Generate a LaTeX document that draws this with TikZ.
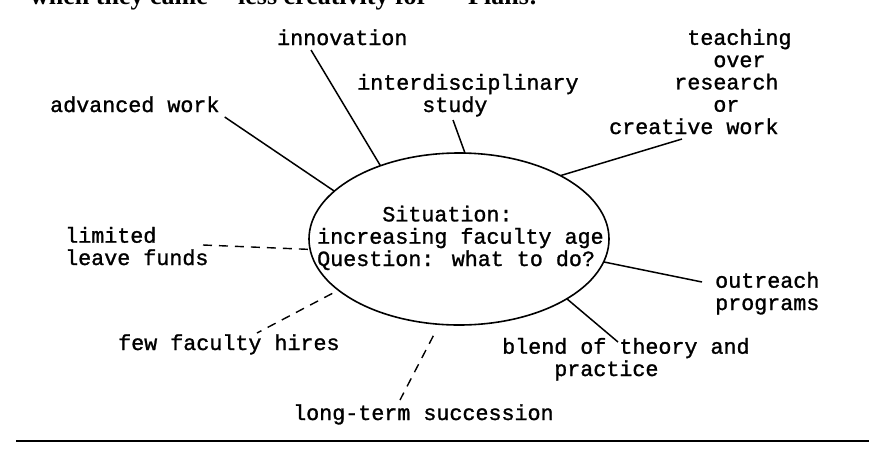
\documentclass[tikz,border=0pt]{standalone}
\usepackage{fontspec}
\usetikzlibrary{shapes.geometric}
\newfontfamily\printfont{Liberation Mono}[FakeBold=1.2]
\newfontfamily\bodyfont{Liberation Serif}
\tikzset{
  txt/.style={font=\printfont\fontsize{21.7}{22.3}\selectfont, inner sep=0pt,
              anchor=base west, align=left},
  spoke/.style={line width=1.5pt},
  dashspoke/.style={line width=1.4pt, dash pattern=on 9pt off 7pt},
}
\begin{document}
\begin{tikzpicture}[x=1pt, y=-1pt]
  \useasboundingbox (0,0) rectangle (869,456);

  % running text of the page above the figure, cut by the page edge
  \begin{scope}
    \clip (0,0) rectangle (869,456);
    \node[font=\bodyfont\bfseries\fontsize{26}{28}\selectfont, inner sep=0pt, anchor=base west]
      (runa) at (30,4) {when they came -- less creativity for};
    \node[font=\bodyfont\bfseries\fontsize{26}{28}\selectfont, inner sep=0pt, anchor=base west]
      (runb) at (468,4) {Plans:};
  \end{scope}

  % central ellipse and its text (multi-line nodes are placed by their last baseline)
  \node[draw, ellipse, minimum width=300pt, minimum height=172pt, inner sep=0pt,
        outer sep=0pt, line width=1.6pt] (sit) at (459,239) {};
  \node[txt] (sittext) at (317,266)
    {\phantom{xxxxx}Situation:\\increasing faculty age\\Question: what to do?};

  % surrounding items
  \node[txt] (innov) at (277,45) {innovation};
  \node[txt] (adv) at (50,112) {advanced work};
  \node[txt] (inter) at (357,112) {interdisciplinary\\\phantom{xxxxx}study};
  \node[txt] (teach) at (609,134)
    {\phantom{xxxxxx}teaching\\\phantom{xxxxxxxx}over\\\phantom{xxxxx}research\\\phantom{xxxxxxxx}or\\creative work};
  \node[txt] (outr) at (715,310) {outreach\\programs};
  \node[txt] (blend) at (502,376) {blend of theory and\\\phantom{xxxx}practice};
  \node[txt] (longt) at (293,420) {long-term succession};
  \node[txt] (few) at (118,350) {few faculty hires};
  \node[txt] (lim) at (65,265) {limited\\leave funds};

  % solid spokes
  \draw[spoke] ([xshift=34pt,yshift=-5pt]innov.base west) -- (sit.137);
  \draw[spoke] ([xshift=5pt,yshift=-5pt]adv.base east) -- (sit.159);
  \draw[spoke] ([xshift=96pt,yshift=-8pt]inter.base west) -- (sit.86);
  \draw[spoke] ([xshift=73pt,yshift=-5pt]teach.base west) -- (sit.32);
  \draw[spoke] ([xshift=-13pt,yshift=28pt]outr.base west) -- (sit.-9);
  \draw[spoke] ([xshift=116pt,yshift=34pt]blend.base west) -- (sit.-29.5);

  % dashed spokes
  \draw[dashspoke] ([xshift=138pt,yshift=20pt]lim.base west) -- (sit.184);
  \draw[dashspoke, shorten <=7pt] (sit.203) -- ([xshift=139pt,yshift=17pt]few.base west);
  \draw[dashspoke, shorten <=13pt] (sit.257) -- ([xshift=107pt,yshift=20pt]longt.base west);

  % closing rule
  \coordinate (ruleL) at (16,441);
  \coordinate (ruleR) at (869,441);
  \draw[line width=2.4pt] (ruleL) -- (ruleR);
\end{tikzpicture}
\end{document}
